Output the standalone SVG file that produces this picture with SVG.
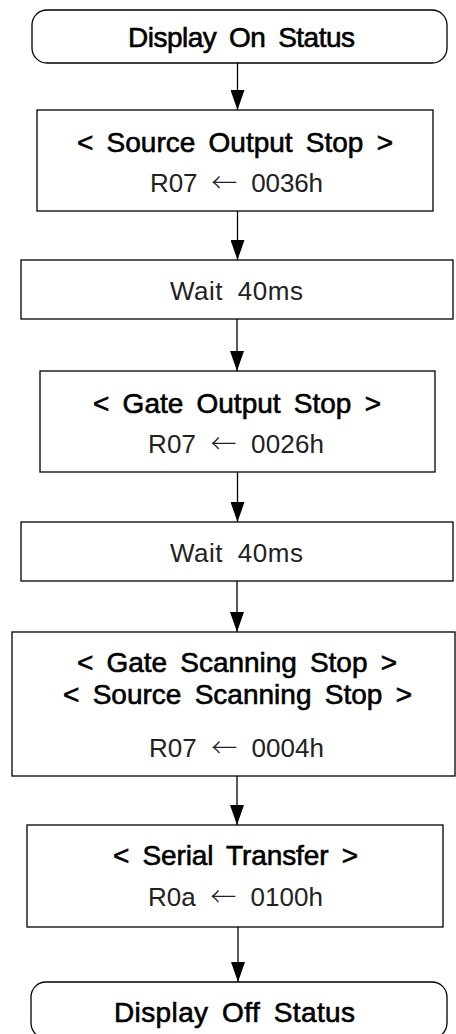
<svg xmlns="http://www.w3.org/2000/svg" width="456" height="1034" viewBox="0 0 456 1034">
<defs>
<style>
.box{fill:#fff;stroke:#000;stroke-width:1.3}
.edge{stroke:#000;stroke-width:1.3;fill:none}
.t{font-family:"Liberation Sans",Arial,sans-serif;font-size:28px;fill:#000;stroke:#000;stroke-width:0.6;word-spacing:5.5px}
.r{font-family:"Liberation Sans",Arial,sans-serif;font-size:26px;fill:#222;word-spacing:7px}
.ar{font-family:"Noto Sans CJK KR","Noto Sans CJK JP",sans-serif;font-size:26px;font-weight:300}
</style>
<marker id="ah" viewBox="0 0 20 14" refX="20" refY="7" markerWidth="20" markerHeight="14" markerUnits="userSpaceOnUse" orient="auto">
<path d="M0,0 L20,7 L0,14 Z" fill="#000"/>
</marker>
</defs>
<rect width="456" height="1034" fill="#fff"/>
<g id="connectors">
<line class="edge" x1="237.5" y1="63" x2="237.5" y2="110" marker-end="url(#ah)"/>
<line class="edge" x1="237.5" y1="211" x2="237.5" y2="260" marker-end="url(#ah)"/>
<line class="edge" x1="237" y1="319" x2="237" y2="371" marker-end="url(#ah)"/>
<line class="edge" x1="237.5" y1="472" x2="237.5" y2="522" marker-end="url(#ah)"/>
<line class="edge" x1="237" y1="581" x2="237" y2="632" marker-end="url(#ah)"/>
<line class="edge" x1="237" y1="776" x2="237" y2="825" marker-end="url(#ah)"/>
<line class="edge" x1="238" y1="927" x2="238" y2="982" marker-end="url(#ah)"/>
</g>
<g id="start">
<rect class="box" x="32" y="10" width="415" height="53" rx="15" ry="15"/>
<text class="t" x="128" y="47" textLength="227" lengthAdjust="spacing">Display On Status</text>
</g>
<g id="source-output-stop">
<rect class="box" x="37" y="110" width="396" height="101"/>
<text class="t" x="77" y="152" textLength="316" lengthAdjust="spacing">&lt; Source Output Stop &gt;</text>
<text class="r" x="150" y="192" textLength="173" lengthAdjust="spacing">R07 <tspan class="ar">←</tspan> 0036h</text>
</g>
<g id="wait1">
<rect class="box" x="21" y="260" width="432" height="59"/>
<text class="r" x="170" y="300" textLength="133" lengthAdjust="spacing">Wait 40ms</text>
</g>
<g id="gate-output-stop">
<rect class="box" x="40" y="371" width="395" height="101"/>
<text class="t" x="93" y="413" textLength="288" lengthAdjust="spacing">&lt; Gate Output Stop &gt;</text>
<text class="r" x="148" y="453" textLength="176" lengthAdjust="spacing">R07 <tspan class="ar">←</tspan> 0026h</text>
</g>
<g id="wait2">
<rect class="box" x="21" y="522" width="432" height="59"/>
<text class="r" x="170" y="562" textLength="133" lengthAdjust="spacing">Wait 40ms</text>
</g>
<g id="scanning-stop">
<rect class="box" x="12" y="632" width="443" height="144"/>
<text class="t" x="77" y="672" textLength="320" lengthAdjust="spacing">&lt; Gate Scanning Stop &gt;</text>
<text class="t" x="63" y="704" textLength="349" lengthAdjust="spacing">&lt; Source Scanning Stop &gt;</text>
<text class="r" x="149" y="757" textLength="175" lengthAdjust="spacing">R07 <tspan class="ar">←</tspan> 0004h</text>
</g>
<g id="serial-transfer">
<rect class="box" x="27" y="825" width="416" height="102"/>
<text class="t" x="113" y="865" textLength="245" lengthAdjust="spacing">&lt; Serial Transfer &gt;</text>
<text class="r" x="148" y="906" textLength="175" lengthAdjust="spacing">R0a <tspan class="ar">←</tspan> 0100h</text>
</g>
<g id="end">
<rect class="box" x="31" y="982" width="416" height="56" rx="15" ry="15"/>
<text class="t" x="114" y="1022" textLength="241" lengthAdjust="spacing">Display Off Status</text>
</g>
</svg>
